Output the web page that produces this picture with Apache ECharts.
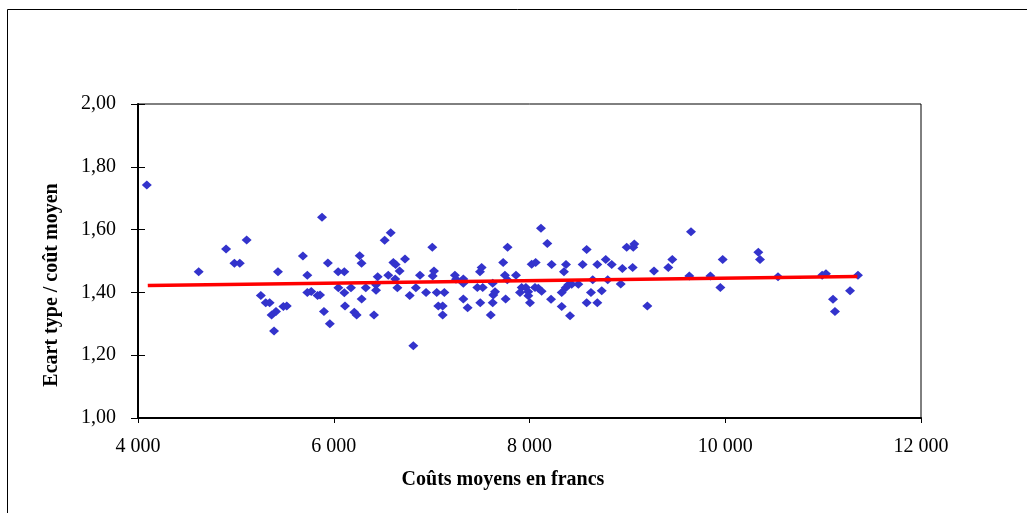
<!DOCTYPE html>
<html>
<head>
<meta charset="utf-8">
<script src="https://cdn.jsdelivr.net/npm/echarts@6/dist/echarts.min.js"></script>
<style>
  html, body { margin: 0; padding: 0; background: #fff; }
  #chart { width: 1027px; height: 513px; }
</style>
</head>
<body>
<div id="chart"></div>
<script>
// Average cost per unit (francs) and standard deviation / average cost ratio
const costs = [
  4090, 4620, 4900, 4985, 5040, 5110, 5255, 5305, 5345, 5365,
  5410, 5390, 5430, 5485, 5520, 5685, 5730, 5730, 5770, 5835,
  5860, 5880, 5900, 5940, 5960, 6045, 6047, 6108, 6108, 6115,
  6176, 6210, 6234, 6265, 6284, 6285, 6327, 6411, 6432, 6432,
  6449, 6520, 6557, 6582, 6609, 6628, 6632, 6650, 6673, 6728,
  6776, 6813, 6839, 6881, 6943, 7007, 7011, 7024, 7052, 7068,
  7113, 7113, 7130, 7238, 7249, 7324, 7324, 7324, 7368, 7467,
  7494, 7497, 7511, 7522, 7604, 7624, 7624, 7630, 7648, 7731,
  7749, 7756, 7773, 7776, 7862, 7903, 7920, 7963, 7987, 7988,
  8005, 8022, 8056, 8063, 8090, 8117, 8124, 8182, 8220, 8226,
  8329, 8329, 8352, 8370, 8373, 8397, 8414, 8431, 8499, 8543,
  8584, 8584, 8628, 8646, 8693, 8693, 8738, 8779, 8799, 8840,
  8932, 8949, 8993, 9054, 9060, 9071, 9204, 9272, 9418, 9459,
  9633, 9650, 9848, 9950, 9974, 10338, 10355, 10539, 10990, 11029,
  11101, 11121, 11275, 11356
];
const ratios = [
  1.742, 1.466, 1.538, 1.493, 1.493, 1.567, 1.390, 1.367, 1.367, 1.328,
  1.339, 1.277, 1.466, 1.355, 1.357, 1.516, 1.455, 1.400, 1.403, 1.390,
  1.392, 1.639, 1.339, 1.494, 1.300, 1.466, 1.415, 1.466, 1.399, 1.357,
  1.415, 1.337, 1.328, 1.517, 1.493, 1.379, 1.415, 1.328, 1.424, 1.407,
  1.450, 1.566, 1.455, 1.590, 1.495, 1.443, 1.489, 1.415, 1.468, 1.506,
  1.390, 1.230, 1.415, 1.455, 1.400, 1.544, 1.452, 1.468, 1.400, 1.357,
  1.357, 1.328, 1.400, 1.455, 1.442, 1.443, 1.429, 1.379, 1.351, 1.416,
  1.466, 1.367, 1.479, 1.416, 1.328, 1.367, 1.429, 1.392, 1.402, 1.495,
  1.455, 1.379, 1.440, 1.544, 1.455, 1.400, 1.416, 1.416, 1.402, 1.389,
  1.367, 1.490, 1.416, 1.495, 1.413, 1.604, 1.404, 1.556, 1.378, 1.489,
  1.400, 1.355, 1.466, 1.415, 1.489, 1.424, 1.326, 1.426, 1.426, 1.489,
  1.537, 1.367, 1.400, 1.440, 1.489, 1.367, 1.405, 1.505, 1.440, 1.489,
  1.427, 1.476, 1.544, 1.479, 1.544, 1.554, 1.357, 1.468, 1.479, 1.505,
  1.452, 1.593, 1.452, 1.416, 1.505, 1.528, 1.505, 1.450, 1.455, 1.459,
  1.378, 1.339, 1.405, 1.455
];

// Linear trend line end points
const trendX = [4100, 11350];
const trendY = [1.422, 1.451];

// Axis ranges and titles
const xMin = 4000, xMax = 12000, xStep = 2000;
const yMin = 1.0, yMax = 2.0, yStep = 0.2;
const xTitle = 'Coûts moyens en francs';
const yTitle = 'Ecart type / coût moyen';

const serif = "'Liberation Serif', 'Times New Roman', serif";

const points = costs.map((c, i) => [c, ratios[i]]);
const trend = trendX.map((x, i) => [x, trendY[i]]);

const fmtThousands = v => String(Math.round(v)).replace(/\B(?=(\d{3})+(?!\d))/g, ' ');
const fmtDecimal = v => v.toFixed(2).replace('.', ',');

const chart = echarts.init(document.getElementById('chart'), null, { renderer: 'canvas' });

chart.setOption({
  animation: false,
  backgroundColor: '#ffffff',
  grid: {
    left: 138, top: 104, right: 106, bottom: 95,
    show: true, borderColor: '#000', borderWidth: 1, backgroundColor: 'transparent'
  },
  graphic: [
    {
      type: 'rect', silent: true, z: -10,
      shape: { x: 7.5, y: 9.5, width: 1100, height: 600 },
      style: { fill: 'none', stroke: '#000', lineWidth: 1 }
    },
    {
      type: 'text', x: 52, y: 285, rotation: Math.PI / 2,
      style: {
        text: yTitle, font: 'bold 20px ' + serif, fill: '#000',
        textAlign: 'center', textVerticalAlign: 'middle'
      }
    },
    {
      type: 'text', x: 503, y: 480,
      style: {
        text: xTitle, font: 'bold 20px ' + serif, fill: '#000',
        textAlign: 'center', textVerticalAlign: 'middle'
      }
    }
  ],
  xAxis: {
    type: 'value', min: xMin, max: xMax, interval: xStep,
    axisLine: { show: true, onZero: false, lineStyle: { color: '#000', width: 2 } },
    axisTick: { show: true, inside: false, length: 5, lineStyle: { color: '#000', width: 1 } },
    axisLabel: {
      margin: 19, color: '#000', fontFamily: serif, fontSize: 20,
      formatter: fmtThousands
    },
    splitLine: { show: false }
  },
  yAxis: [
    {
      type: 'value', min: yMin, max: yMax, interval: yStep, position: 'left',
      axisLine: { show: true, onZero: false, lineStyle: { color: '#000', width: 2 } },
      axisTick: { show: true, inside: false, length: 7, lineStyle: { color: '#000', width: 1 } },
      axisLabel: {
        margin: 22, color: '#000', fontFamily: serif, fontSize: 20,
        formatter: fmtDecimal
      },
      splitLine: { show: false }
    },
    {
      // inner half of the crossing tick marks
      type: 'value', min: yMin, max: yMax, interval: yStep, position: 'left', offset: 0,
      axisLine: { show: false },
      axisTick: { show: true, inside: true, length: 7, lineStyle: { color: '#000', width: 1 } },
      axisLabel: { show: false },
      splitLine: { show: false }
    }
  ],
  series: [
    {
      name: 'points', type: 'scatter', data: points,
      symbol: 'diamond', symbolSize: [10, 9],
      itemStyle: { color: '#3333CC', opacity: 1 },
      z: 2
    },
    {
      name: 'trend', type: 'line', data: trend,
      showSymbol: false, symbol: 'none',
      lineStyle: { color: '#FF0000', width: 3.5 },
      z: 3
    }
  ]
});
</script>
</body>
</html>
